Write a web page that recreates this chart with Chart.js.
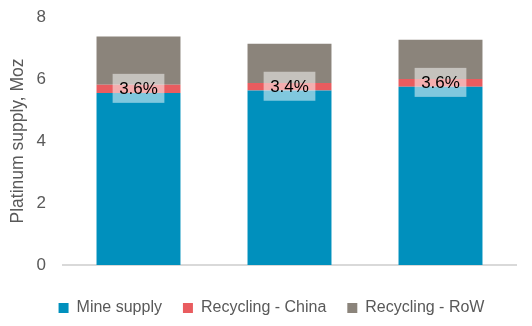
<!DOCTYPE html>
<html>
<head>
<meta charset="utf-8">
<script src="https://cdn.jsdelivr.net/npm/chart.js@4"></script>
<style>
  html, body { margin: 0; padding: 0; background: #ffffff; }
  #wrap { width: 532px; height: 326px; position: relative; }
</style>
</head>
<body>
<div id="wrap"><canvas id="supplyChart"></canvas></div>
<script>
const years = ["2022", "2023", "2024"];
const mineSupply = [5.55, 5.63, 5.75];
const recyclingChina = [0.265, 0.24, 0.25];
const recyclingRow = [1.555, 1.27, 1.27];
const chinaShareLabels = ["3.6%", "3.4%", "3.6%"];
const yTickValues = [0, 2, 4, 6, 8];

const fontFamily = "'Liberation Sans', Arial, sans-serif";
const mutedTextColor = "#595959";

// translucent boxes with the China recycling share, centred on the red segment
const shareBoxes = {
  id: "shareBoxes",
  afterDatasetsDraw(chart) {
    const { ctx } = chart;
    const meta = chart.getDatasetMeta(1);
    ctx.save();
    ctx.font = "17px " + fontFamily;
    ctx.textAlign = "center";
    ctx.textBaseline = "middle";
    meta.data.forEach((bar, i) => {
      const text = chinaShareLabels[i];
      const cy = (bar.y + bar.base) / 2 - 0.5;
      const w = ctx.measureText(text).width + 13;
      const h = 29;
      ctx.fillStyle = "rgba(255, 255, 255, 0.5)";
      ctx.fillRect(bar.x - w / 2, cy - h / 2, w, h);
      ctx.fillStyle = "#000000";
      ctx.fillText(text, bar.x, cy + 1);
    });
    ctx.restore();
  }
};

new Chart(document.getElementById("supplyChart"), {
  type: "bar",
  data: {
    labels: years,
    datasets: [
      { label: "Mine supply", data: mineSupply, backgroundColor: "#0090bd" },
      { label: "Recycling - China", data: recyclingChina, backgroundColor: "#e95c5f" },
      { label: "Recycling - RoW", data: recyclingRow, backgroundColor: "#8b847b" }
    ]
  },
  options: {
    responsive: true,
    maintainAspectRatio: false,
    animation: false,
    datasets: {
      bar: { categoryPercentage: 1, barPercentage: 0.556, borderWidth: 0 }
    },
    layout: {
      padding: { top: 17, right: 16, bottom: 0, left: 27 }
    },
    plugins: {
      tooltip: { enabled: false },
      legend: {
        position: "bottom",
        labels: {
          boxWidth: 10,
          boxHeight: 10,
          padding: 21,
          color: mutedTextColor,
          font: { family: fontFamily, size: 16 }
        }
      }
    },
    scales: {
      x: {
        stacked: true,
        grid: { display: false, drawTicks: false },
        border: { display: true, color: "#d9d9d9", width: 2 },
        ticks: {
          color: mutedTextColor,
          padding: 14,
          font: { family: fontFamily, size: 17 }
        },
        afterFit(scale) { scale.height = 14; }
      },
      y: {
        stacked: true,
        min: 0,
        max: 8,
        grid: { display: false, drawTicks: false },
        border: { display: false },
        afterBuildTicks(scale) {
          scale.ticks = yTickValues.map(v => ({ value: v }));
        },
        ticks: {
          color: mutedTextColor,
          padding: 17,
          font: { family: fontFamily, size: 17 }
        },
        title: {
          display: true,
          text: "Platinum supply, Moz",
          color: mutedTextColor,
          padding: { top: -19, bottom: 0 },
          font: { family: fontFamily, size: 17.5 }
        },
        afterFit(scale) {
          scale.width = 36;
          scale.paddingTop = 0;
          scale.paddingBottom = 0;
        }
      }
    }
  },
  plugins: [shareBoxes]
});
</script>
</body>
</html>
